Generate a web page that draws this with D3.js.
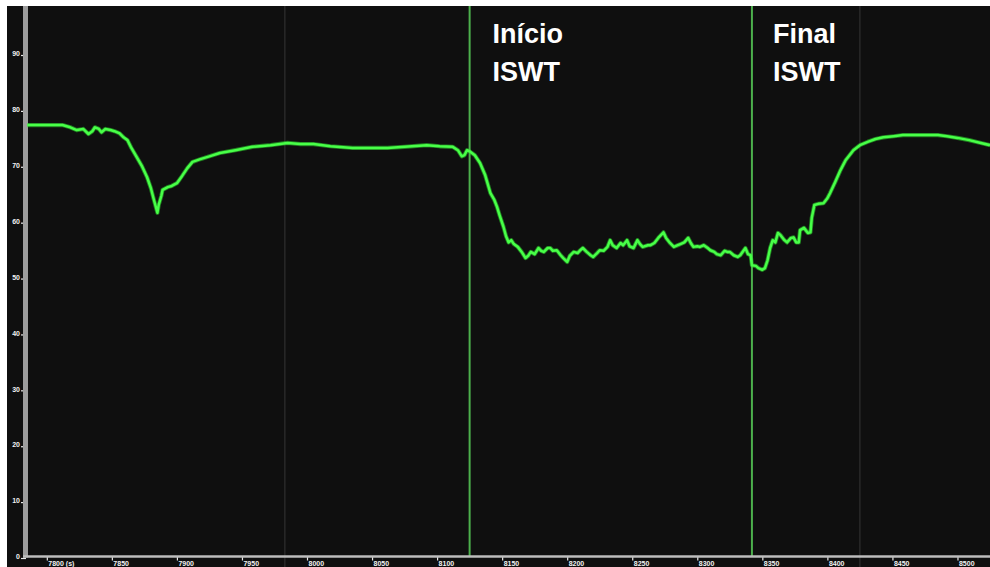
<!DOCTYPE html>
<html>
<head>
<meta charset="utf-8">
<script src="https://cdn.jsdelivr.net/npm/d3@7/dist/d3.min.js"></script>
<style>
  html, body { margin: 0; padding: 0; background: #ffffff; }
  svg { display: block; }
</style>
</head>
<body>
<svg id="chart" width="990" height="567"></svg>
<script>
// Recording time (s) and signal level
const times = [
  7785, 7795, 7806, 7812, 7818, 7823, 7828, 7832, 7835, 7837,
  7840, 7842, 7845, 7849, 7852, 7856, 7859, 7862, 7865, 7869,
  7873, 7877, 7880, 7882, 7885, 7886, 7888, 7889, 7893, 7896,
  7900, 7904, 7908, 7912, 7918, 7925, 7933, 7945, 7958, 7972,
  7985, 7995, 8005, 8018, 8035, 8048, 8062, 8075, 8092, 8102,
  8112, 8116, 8119, 8121, 8123, 8125, 8129, 8133, 8137, 8141,
  8144, 8146, 8148, 8151, 8153, 8155, 8157, 8159, 8162, 8165,
  8168, 8170, 8172, 8175, 8178, 8180, 8182, 8185, 8187, 8189,
  8192, 8195, 8197, 8200, 8202, 8205, 8208, 8210, 8212, 8215,
  8218, 8220, 8223, 8225, 8228, 8231, 8233, 8235, 8238, 8241,
  8243, 8246, 8248, 8251, 8254, 8256, 8258, 8262, 8264, 8267,
  8270, 8274, 8276, 8279, 8282, 8285, 8287, 8290, 8293, 8295,
  8297, 8300, 8302, 8305, 8308, 8310, 8313, 8315, 8318, 8321,
  8323, 8325, 8328, 8331, 8333, 8337, 8339, 8341, 8342, 8345,
  8347, 8350, 8352, 8354, 8356, 8358, 8360, 8362, 8364, 8367,
  8369, 8372, 8374, 8376, 8378, 8379, 8382, 8385, 8387, 8388,
  8390, 8393, 8397, 8400, 8402, 8406, 8410, 8414, 8420, 8425,
  8431, 8437, 8443, 8451, 8458, 8472, 8485, 8492, 8500, 8509,
  8518, 8525
];
const values = [
  77.2, 77.2, 77.2, 77.2, 76.8, 76.3, 76.5, 75.6, 76.1, 76.8,
  76.5, 75.9, 76.5, 76.3, 76.1, 75.7, 75.0, 74.5, 73.1, 71.5,
  69.9, 67.9, 65.9, 64.1, 61.5, 62.9, 64.5, 65.6, 66.1, 66.3,
  66.8, 68.1, 69.5, 70.6, 71.1, 71.6, 72.2, 72.7, 73.3, 73.6,
  74.0, 73.8, 73.8, 73.4, 73.1, 73.1, 73.1, 73.3, 73.6, 73.4,
  73.3, 72.7, 71.6, 71.8, 72.7, 72.5, 71.8, 70.4, 68.2, 65.0,
  63.8, 62.6, 61.1, 59.0, 57.3, 56.2, 56.6, 55.9, 55.4, 54.5,
  53.4, 53.8, 54.5, 54.1, 55.2, 54.7, 54.5, 55.2, 55.2, 54.7,
  54.8, 53.9, 53.4, 52.7, 53.8, 54.5, 54.3, 54.8, 55.2, 54.5,
  53.9, 53.6, 54.3, 54.8, 54.7, 55.4, 56.6, 55.7, 55.2, 56.1,
  55.7, 56.6, 55.5, 55.2, 56.6, 55.9, 55.4, 55.7, 55.7, 56.1,
  57.0, 58.0, 57.0, 56.1, 55.4, 55.7, 55.9, 56.2, 57.0, 56.1,
  55.4, 55.5, 55.4, 55.7, 55.2, 54.8, 54.5, 54.1, 53.9, 54.7,
  54.5, 54.5, 53.9, 53.6, 53.9, 55.2, 54.1, 53.9, 52.1, 52.0,
  51.6, 51.3, 51.6, 53.0, 55.2, 56.6, 56.2, 57.9, 57.5, 56.6,
  56.2, 57.0, 57.1, 56.2, 56.2, 58.4, 58.8, 57.9, 58.0, 60.6,
  62.9, 63.1, 63.2, 64.1, 65.0, 67.0, 69.1, 70.9, 72.7, 73.6,
  74.2, 74.7, 75.0, 75.2, 75.4, 75.4, 75.4, 75.2, 74.9, 74.5,
  74.0, 73.6
];

// Axis ticks
const yTicks = [0, 10, 20, 30, 40, 50, 60, 70, 80, 90];
const xTicks = [7800, 7850, 7900, 7950, 8000, 8050, 8100, 8150, 8200,
                8250, 8300, 8350, 8400, 8450, 8500];

// Event markers (start / end of the test)
const eventTimes = [8125, 8342];
const eventLabels = [["Início", "ISWT"], ["Final", "ISWT"]];

// Faint vertical guide lines
const guideTimes = [7983, 8425];

const svg = d3.select("#chart");
const W = 990, H = 567;
const frame = { left: 7, top: 6 };
const plot = { left: 26, right: 990, top: 6, bottom: 556.5 };

const x = d3.scaleLinear().domain([7784, 8525]).range([plot.left, plot.right]);
const y = d3.scaleLinear().domain([0, 98.5]).range([plot.bottom, plot.top]);

// Background
svg.append("rect").attr("width", W).attr("height", H).attr("fill", "#ffffff");
svg.append("rect")
  .attr("x", frame.left).attr("y", frame.top)
  .attr("width", W - frame.left).attr("height", H - frame.top)
  .attr("fill", "#0f0f0f");

// Guide lines
svg.append("g").selectAll("line").data(guideTimes).join("line")
  .attr("x1", d => x(d)).attr("x2", d => x(d))
  .attr("y1", plot.top).attr("y2", H)
  .attr("stroke", "#363636").attr("stroke-width", 1);

// Event lines
svg.append("g").selectAll("line").data(eventTimes).join("line")
  .attr("x1", d => x(d)).attr("x2", d => x(d))
  .attr("y1", plot.top).attr("y2", plot.bottom)
  .attr("stroke", "#4cb04c").attr("stroke-width", 2);

// Y axis
const yAxis = svg.append("g")
  .attr("transform", `translate(${plot.left},0)`)
  .call(d3.axisLeft(y).tickValues(yTicks).tickSize(5).tickPadding(1).tickFormat(d3.format("d")));
yAxis.select(".domain").remove();
yAxis.selectAll(".tick line").attr("stroke", "#e8e8e8").attr("stroke-width", 1.2)
  .attr("transform", "translate(0,1.5)");
yAxis.selectAll(".tick text")
  .attr("fill", "#f2f2f2")
  .attr("font-family", "Liberation Sans, Arial, sans-serif")
  .attr("font-weight", "bold")
  .attr("font-size", 7);
svg.append("rect")
  .attr("x", 23).attr("y", plot.top)
  .attr("width", 5).attr("height", plot.bottom - plot.top + 1)
  .attr("fill", "#9c9c9c");

// X axis
const xAxis = svg.append("g")
  .attr("transform", `translate(0,${plot.bottom})`)
  .call(d3.axisBottom(x).tickValues(xTicks).tickSize(4).tickPadding(1)
    .tickFormat((d, i) => i === 0 ? d + " (s)" : d));
xAxis.select(".domain").remove();
xAxis.selectAll(".tick line").attr("stroke", "#e8e8e8").attr("stroke-width", 1.2);
xAxis.selectAll(".tick text")
  .attr("fill", "#f2f2f2")
  .attr("text-anchor", "start")
  .attr("dx", 1)
  .attr("font-family", "Liberation Sans, Arial, sans-serif")
  .attr("font-weight", "bold")
  .attr("font-size", 7);
svg.append("line")
  .attr("x1", 23).attr("x2", W)
  .attr("y1", plot.bottom).attr("y2", plot.bottom)
  .attr("stroke", "#bdbdbd").attr("stroke-width", 2.5);

// Signal trace
const data = times.map((t, i) => ({ t, v: values[i] }));
const line = d3.line().x(d => x(d.t)).y(d => y(d.v));
svg.append("path").datum(data)
  .attr("d", line)
  .attr("fill", "none")
  .attr("stroke", "#2fdc2f")
  .attr("stroke-width", 4.2)
  .attr("stroke-opacity", 0.55)
  .attr("stroke-linejoin", "round");
svg.append("path").datum(data)
  .attr("d", line)
  .attr("fill", "none")
  .attr("stroke", "#48ff48")
  .attr("stroke-width", 2.5)
  .attr("stroke-linejoin", "round");

// Event labels
const labels = svg.append("g")
  .attr("font-family", "Liberation Sans, Arial, sans-serif")
  .attr("font-weight", "bold")
  .attr("font-size", 27)
  .attr("fill", "#ffffff");
eventTimes.forEach((t, i) => {
  const g = labels.append("text").attr("x", x(t) + 22);
  eventLabels[i].forEach((s, j) => {
    g.append("tspan").attr("x", x(t) + (i === 0 ? 23 : 21)).attr("y", 43 + j * 38).text(s);
  });
});
</script>
</body>
</html>
